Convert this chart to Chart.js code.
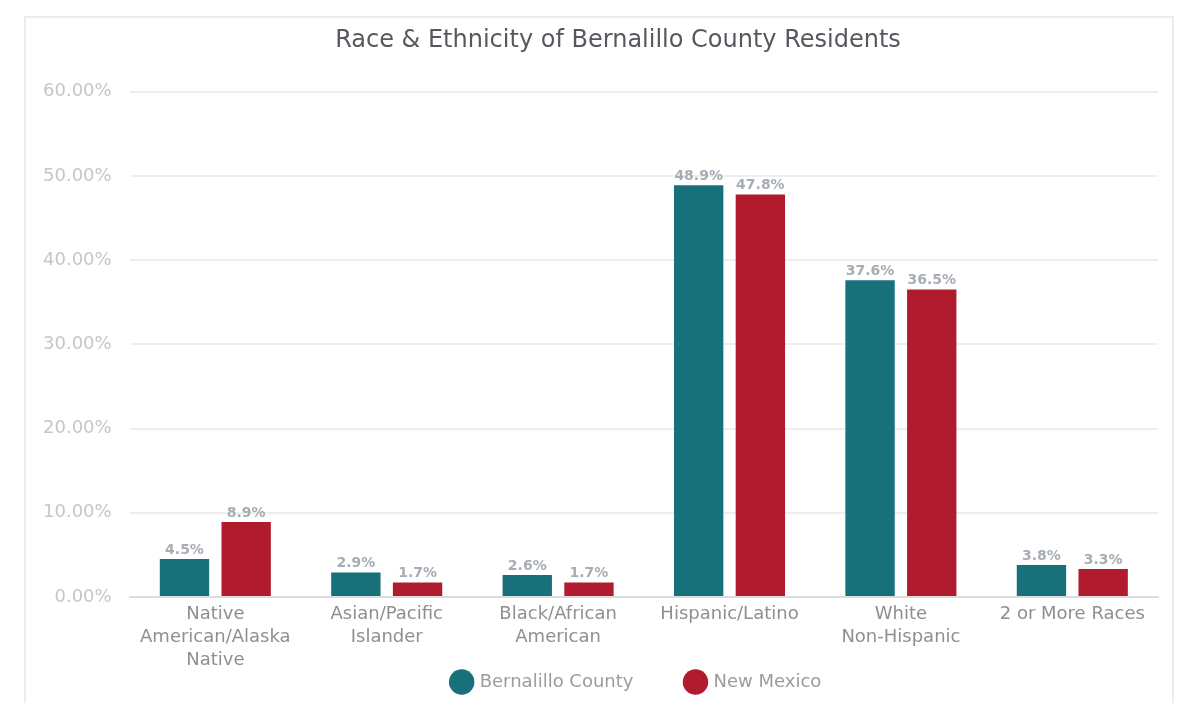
<!DOCTYPE html>
<html>
<head>
<meta charset="utf-8">
<script src="https://cdn.jsdelivr.net/npm/chart.js@4/dist/chart.umd.min.js"></script>
<style>
  body { margin: 0; background: #fff; }
  #box {
    position: absolute; left: 24px; top: 16px; width: 1146px; height: 700px;
    border: 2px solid #ececec; border-bottom: none;
  }
  canvas { position: absolute; left: 0; top: 0; }
</style>
</head>
<body>
<div id="box"><canvas id="grafico" width="1146" height="687"></canvas></div>
<script>
var categorias = [
  ['Native', 'American/Alaska', 'Native'],
  ['Asian/Pacific', 'Islander'],
  ['Black/African', 'American'],
  'Hispanic/Latino',
  ['White', 'Non-Hispanic'],
  '2 or More Races'
];
var bernalillo = [4.5, 2.9, 2.6, 48.9, 37.6, 3.8];
var nuevoMexico = [8.9, 1.7, 1.7, 47.8, 36.5, 3.3];
var ticksY = [0, 10, 20, 30, 40, 50, 60];

var fuente = "'DejaVu Sans', sans-serif";

// etiquetas encima de cada barra
var etiquetas = {
  id: 'etiquetas',
  afterLayout: function(chart) {
    // la leyenda y el titulo del original estan algo corridos a la derecha
    chart.legend.left += 38;
    chart.legend.right += 38;
    chart.titleBlock.left += 19;
    chart.titleBlock.right += 19;
  },
  afterDatasetsDraw: function(chart) {
    var ctx = chart.ctx;
    ctx.save();
    ctx.font = 'bold 14px ' + fuente;
    ctx.fillStyle = '#a6adb4';
    ctx.textAlign = 'center';
    ctx.textBaseline = 'bottom';
    chart.data.datasets.forEach(function(ds, i) {
      chart.getDatasetMeta(i).data.forEach(function(bar, j) {
        ctx.fillText(ds.data[j].toFixed(1) + '%', bar.x, bar.y - 2);
      });
    });
    ctx.restore();
  }
};

var config = {
  type: 'bar',
  data: {
    labels: categorias,
    datasets: [{
      label: 'Bernalillo County',
      backgroundColor: '#17707a',
      data: bernalillo
    }, {
      label: 'New Mexico',
      backgroundColor: '#b01c2e',
      data: nuevoMexico
    }]
  },
  options: {
    responsive: false,
    devicePixelRatio: 1,
    animation: false,
    categoryPercentage: 0.72,
    barPercentage: 0.8,
    layout: { padding: { left: 14, right: 14, top: 4, bottom: 4 } },
    plugins: {
      title: {
        display: true,
        text: 'Race & Ethnicity of Bernalillo County Residents',
        color: '#55595e',
        font: { family: fuente, size: 24, weight: 'normal' },
        padding: { top: 4, bottom: 37 }
      },
      legend: {
        position: 'bottom',
        labels: {
          usePointStyle: true,
          pointStyle: 'circle',
          boxWidth: 22,
          boxHeight: 22,
          padding: 8,
          color: '#9c9c9c',
          font: { family: fuente, size: 18 },
          generateLabels: function(chart) {
            var items = Chart.defaults.plugins.legend.labels.generateLabels(chart);
            items[0].text += '\u2003\u2003\u2002';
            return items;
          }
        }
      },
      tooltip: { enabled: false }
    },
    scales: {
      x: {
        grid: { display: false, drawTicks: false },
        border: { color: '#dcdcdc', width: 2 },
        ticks: {
          color: '#8f8f8f',
          font: { family: fuente, size: 18, lineHeight: 1.28 },
          maxRotation: 0,
          padding: 6
        },
        afterFit: function(axis) { axis.height -= 13; }
      },
      y: {
        min: 0,
        max: 60,
        afterBuildTicks: function(axis) {
          axis.ticks = ticksY.map(function(v) { return { value: v }; });
        },
        grid: { color: '#eeeeee', lineWidth: 2, drawTicks: false },
        border: { display: false },
        ticks: {
          color: '#c6c6c6',
          font: { family: fuente, size: 18 },
          padding: 18,
          callback: function(v) { return v.toFixed(2) + '%'; }
        },
        afterFit: function(axis) { axis.width -= 15; }
      }
    }
  },
  plugins: [etiquetas]
};

window.myBar = new Chart(document.getElementById('grafico'), config);
</script>
</body>
</html>
